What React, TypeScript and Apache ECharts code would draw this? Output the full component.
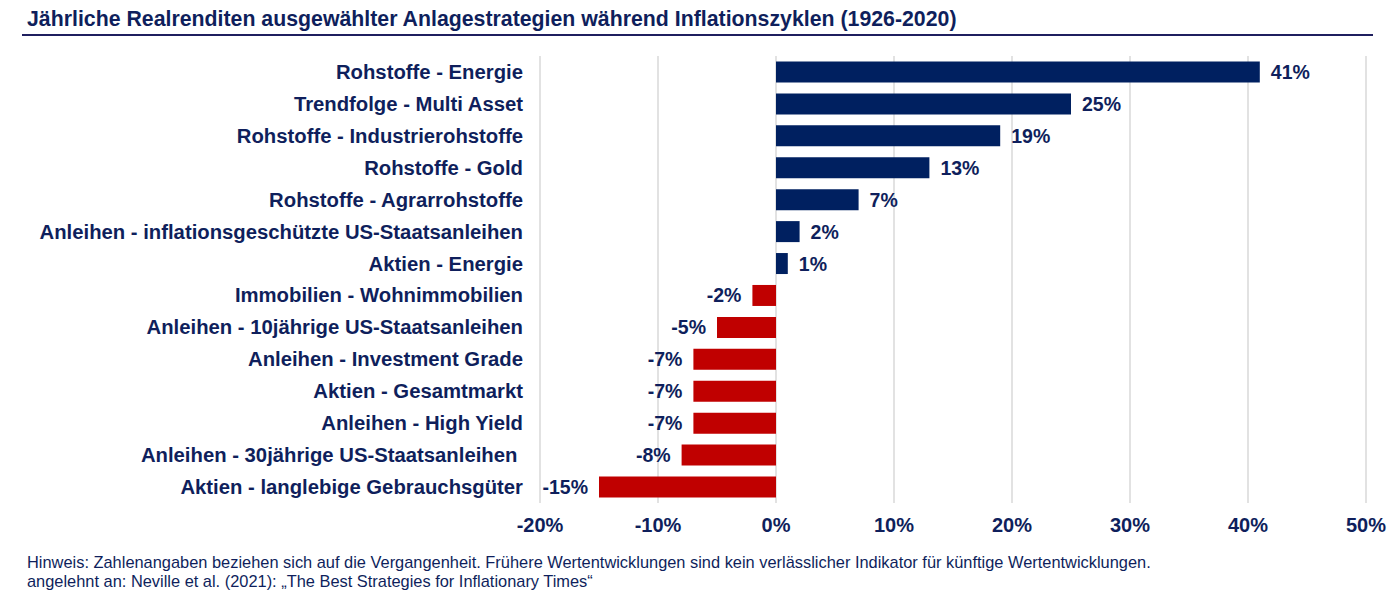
import React, { useEffect, useRef } from "react";
import * as echarts from "echarts";

const categories = [
  "Rohstoffe - Energie",
  "Trendfolge - Multi Asset",
  "Rohstoffe - Industrierohstoffe",
  "Rohstoffe - Gold",
  "Rohstoffe - Agrarrohstoffe",
  "Anleihen - inflationsgeschützte US-Staatsanleihen",
  "Aktien - Energie",
  "Immobilien - Wohnimmobilien",
  "Anleihen - 10jährige US-Staatsanleihen",
  "Anleihen - Investment Grade",
  "Aktien - Gesamtmarkt",
  "Anleihen - High Yield",
  "Anleihen - 30jährige US-Staatsanleihen ",
  "Aktien - langlebige Gebrauchsgüter",
];
const values = [41, 25, 19, 13, 7, 2, 1, -2, -5, -7, -7, -7, -8, -15];

const TITLE = "Jährliche Realrenditen ausgewählter Anlagestrategien während Inflationszyklen (1926-2020)";
const NOTE1 =
  "Hinweis: Zahlenangaben beziehen sich auf die Vergangenheit. Frühere Wertentwicklungen sind kein verlässlicher Indikator für künftige Wertentwicklungen.";
const NOTE2 = "angelehnt an: Neville et al. (2021): „The Best Strategies for Inflationary Times“";

const NAVY = "#002060";
const RED = "#C00000";
const TEXT = "#0F1F5C";
const FONT = "'Liberation Sans', Arial, sans-serif";

export default function App() {
  const ref = useRef<HTMLDivElement>(null);
  useEffect(() => {
    if (!ref.current) return;
    const chart = echarts.init(ref.current, undefined, { renderer: "svg" });
    chart.setOption({
      animation: false,
      backgroundColor: "#ffffff",
      textStyle: { fontFamily: FONT },
      grid: { left: 540, right: 34, top: 56, bottom: 100, containLabel: false },
      xAxis: {
        type: "value",
        min: -20,
        max: 50,
        interval: 10,
        axisLabel: {
          formatter: (v: number) => `${v}%`,
          color: TEXT,
          fontSize: 20,
          fontWeight: "bold",
          fontFamily: FONT,
          margin: 12,
        },
        axisLine: { show: false },
        axisTick: { show: false },
        splitLine: { show: true, lineStyle: { color: "#D9D9D9", width: 1.5 } },
      },
      yAxis: {
        type: "category",
        data: categories,
        inverse: true,
        axisLabel: {
          color: TEXT,
          fontSize: 20.3,
          fontWeight: "bold",
          fontFamily: FONT,
          margin: 17,
        },
        axisLine: { show: false },
        axisTick: { show: false },
        splitLine: { show: false },
      },
      series: [
        {
          type: "bar",
          barWidth: 21,
          data: values.map((v) => ({
            value: v,
            itemStyle: { color: v >= 0 ? NAVY : RED },
            label: {
              show: true,
              position: v >= 0 ? "right" : "left",
              distance: 11,
              formatter: `${v}%`,
              color: TEXT,
              fontSize: 19.5,
              fontWeight: "bold",
              fontFamily: FONT,
            },
          })),
        },
      ],
      graphic: [
        {
          type: "text",
          left: 27,
          top: 8,
          style: {
            text: TITLE,
            fill: TEXT,
            font: `bold 21.3px ${FONT}`,
          },
        },
        {
          type: "line",
          shape: { x1: 22, y1: 35, x2: 1373, y2: 35 },
          style: { stroke: "#1F1F5F", lineWidth: 2 },
        },
        {
          type: "text",
          left: 27,
          top: 554,
          style: { text: NOTE1, fill: TEXT, font: `16.4px ${FONT}` },
        },
        {
          type: "text",
          left: 27,
          top: 573,
          style: { text: NOTE2, fill: TEXT, font: `16.4px ${FONT}` },
        },
      ],
    });
    return () => chart.dispose();
  }, []);
  return (
    <div
      ref={ref}
      style={{ position: "fixed", left: 0, top: 0, width: 1400, height: 603 }}
    />
  );
}
